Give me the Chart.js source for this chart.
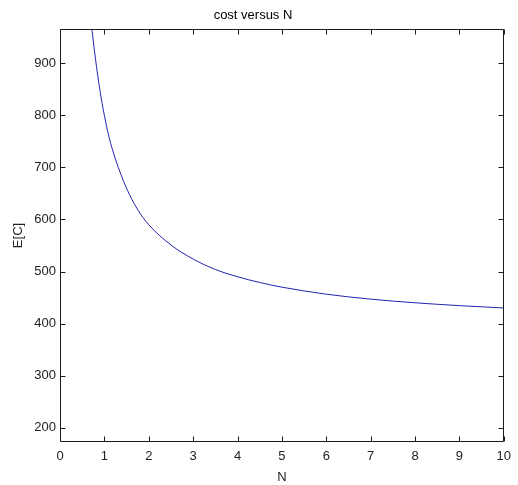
<!DOCTYPE html>
<html>
<head>
<meta charset="utf-8">
<script src="https://cdn.jsdelivr.net/npm/chart.js@4.4.1/dist/chart.umd.min.js"></script>
<style>
  html, body { margin: 0; padding: 0; background: #fff; }
  canvas { display: block; }
</style>
</head>
<body>
<canvas id="c" width="518" height="485"></canvas>
<script>
// ---- data ----
const nValues    = [0.7, 0.75, 0.8, 0.9, 1.0, 1.1, 1.25, 1.5, 1.75, 2.0, 2.5, 3.0, 3.5, 4.0, 4.5, 5.0, 6.0, 7.0, 8.0, 9.0, 10.0];
const costValues = [980, 943, 908, 848, 800, 760, 716, 660, 619, 590, 551, 524, 504, 490, 479, 470, 456.5, 447, 440, 434.5, 430];
const xTicks = [0, 1, 2, 3, 4, 5, 6, 7, 8, 9, 10];
const yTicks = [200, 300, 400, 500, 600, 700, 800, 900];
const titleText = 'cost versus N';
const xLabel = 'N';
const yLabel = 'E[C]';

const FONT = "'Liberation Sans', Arial, Helvetica, sans-serif";

const points = nValues.map((n, i) => ({ x: n, y: costValues[i] }));

const boxTicks = {
  id: 'boxTicks',
  afterDraw(chart) {
    const { ctx, chartArea: a, scales: { x, y } } = chart;
    const L = Math.round(a.left) + 0.5, R = Math.round(a.right) - 0.5;
    const T = Math.round(a.top) + 0.5, B = Math.round(a.bottom) - 0.5;
    const len = 5;
    ctx.save();
    ctx.strokeStyle = '#1a1a1a';
    ctx.lineWidth = 1;
    ctx.beginPath();
    ctx.rect(L, T, R - L, B - T);
    x.ticks.forEach(t => {
      const px = Math.round(x.getPixelForValue(t.value)) + 0.5;
      ctx.moveTo(px, B); ctx.lineTo(px, B - len);
      ctx.moveTo(px, T); ctx.lineTo(px, T + len);
    });
    y.ticks.forEach(t => {
      const py = Math.round(y.getPixelForValue(t.value)) + 0.5;
      ctx.moveTo(L, py); ctx.lineTo(L + len, py);
      ctx.moveTo(R, py); ctx.lineTo(R - len, py);
    });
    ctx.stroke();
    ctx.restore();
  }
};

new Chart(document.getElementById('c'), {
  type: 'line',
  data: {
    datasets: [{
      data: points,
      borderColor: 'rgb(35,35,175)',
      borderWidth: 1,
      pointRadius: 0,
      fill: false,
      cubicInterpolationMode: 'monotone'
    }]
  },
  options: {
    responsive: false,
    animation: false,
    layout: { padding: { left: 0, right: 12, top: 0, bottom: 0 } },
    plugins: {
      legend: { display: false },
      tooltip: { enabled: false },
      title: {
        display: true,
        text: titleText,
        color: '#000',
        font: { family: FONT, size: 13, weight: 'normal' },
        padding: { top: 7.5, bottom: 5.9 }
      }
    },
    scales: {
      x: {
        type: 'linear',
        min: 0, max: 10,
        afterBuildTicks: s => { s.ticks = xTicks.map(v => ({ value: v })); },
        afterFit: s => { s.height = 43; },
        grid: { display: false, drawTicks: false },
        border: { display: false },
        ticks: { color: '#222', padding: 7, font: { family: FONT, size: 13 }, maxRotation: 0, autoSkip: false },
        title: { display: true, text: xLabel, color: '#222', font: { family: FONT, size: 13 }, padding: { top: 0, bottom: 0 } }
      },
      y: {
        type: 'linear',
        min: 172.5, max: 966,
        afterBuildTicks: s => { s.ticks = yTicks.map(v => ({ value: v })); },
        afterFit: s => { s.width = 60; },
        grid: { display: false, drawTicks: false },
        border: { display: false },
        ticks: { color: '#222', padding: 4, font: { family: FONT, size: 13 }, autoSkip: false },
        title: { display: true, text: yLabel, color: '#222', font: { family: FONT, size: 13 }, padding: { top: 10.5, bottom: 0 } }
      }
    }
  },
  plugins: [boxTicks]
});
</script>
</body>
</html>
